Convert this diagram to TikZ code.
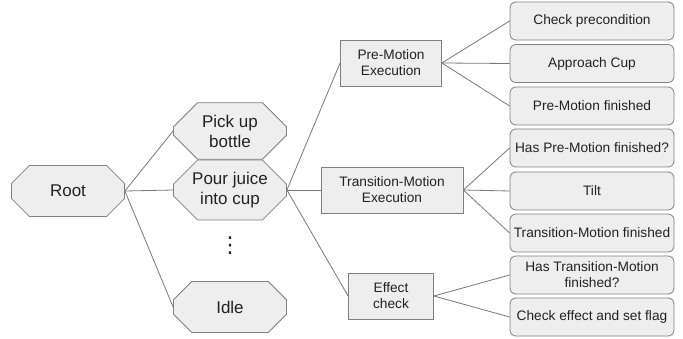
\documentclass[tikz,border=0pt]{standalone}
\usepackage{fontspec}
\setmainfont{Liberation Sans}
\newfontfamily\symfont{DejaVu Sans}
\usetikzlibrary{shapes.misc}
\definecolor{boxfill}{HTML}{EEEEEE}
\definecolor{boxline}{HTML}{808080}
\definecolor{linecol}{HTML}{787878}
\definecolor{textcol}{HTML}{222222}
\tikzset{
  taskbox/.style={chamfered rectangle, chamfered rectangle xsep=12pt,
    chamfered rectangle ysep=12pt, draw=boxline, fill=boxfill, line width=0.8pt,
    minimum width=113pt, minimum height=51pt, inner sep=0pt, align=center,
    text=textcol, font=\fontsize{17}{20}\selectfont},
  phasebox/.style={rectangle, draw=boxline, fill=boxfill, line width=0.8pt,
    minimum height=46pt, inner sep=0pt, align=center, text=textcol,
    font=\fontsize{13.7}{16}\selectfont},
  leafbox/.style={rectangle, rounded corners=6pt, draw=boxline, fill=boxfill,
    line width=0.8pt, minimum width=164pt, minimum height=38pt, inner sep=1pt,
    align=center, text=textcol, font=\fontsize{13.7}{16}\selectfont},
  link/.style={draw=linecol, line width=0.8pt}
}
\begin{document}
\begin{tikzpicture}[x=1pt,y=-1pt]
  \useasboundingbox (0,0) rectangle (683,339);
  % behaviour tree, level 0 and 1
  \node[taskbox] (root) at (68,191) {Root};
  \node[taskbox] (pick) at (230,131) {Pick up\\bottle};
  \node[taskbox] (pour) at (230,190) {Pour juice\\into cup};
  \node[text=textcol, font=\symfont\fontsize{22}{24}\selectfont] (dots) at (230,246) {⋮};
  \node[taskbox] (idle) at (230,307) {Idle};
  % level 2
  \node[phasebox, minimum width=101pt] (pre) at (391,63) {Pre-Motion\\Execution};
  \node[phasebox, minimum width=142pt] (trans) at (392,190) {Transition-Motion\\Execution};
  \node[phasebox, minimum width=85pt] (eff) at (391,296) {Effect\\check};
  % leaves
  \foreach \name/\y/\txt in {pre1/21/Check precondition, pre2/63.5/Approach Cup,
      pre3/106/Pre-Motion finished, trans1/148/Has Pre-Motion finished?,
      trans2/191/Tilt, trans3/233/Transition-Motion finished,
      eff1/275/Has Transition-Motion\\finished?, eff2/317/Check effect and set flag} {
    \node[leafbox] (\name) at (592,\y) {\txt};
  }
  % connectors
  \foreach \a/\b in {root/pick, root/pour, root/idle, pour/pre, pour/trans, pour/eff,
      pre/pre1, pre/pre2, pre/pre3, trans/trans1, trans/trans2, trans/trans3,
      eff/eff1, eff/eff2} {
    \draw[link] (\a.east) -- (\b.west);
  }
\end{tikzpicture}
\end{document}
